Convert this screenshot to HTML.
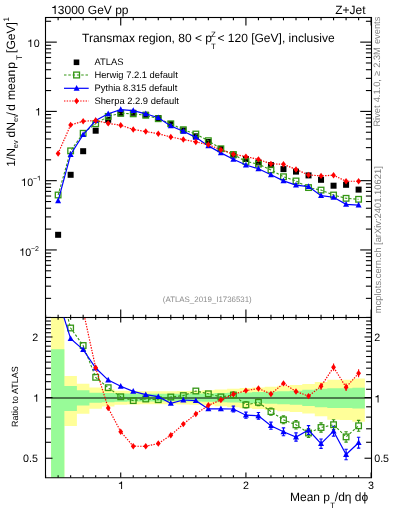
<!DOCTYPE html><html><head><meta charset="utf-8"><style>html,body{margin:0;padding:0;background:#fff;}svg{display:block;will-change:transform;text-rendering:geometricPrecision;}</style></head><body>
<svg width="393" height="512" viewBox="0 0 393 512">
<rect x="0" y="0" width="393" height="512" fill="#fff"/>
<path d="M51.10,317.50L64.38,317.50L64.38,376.04L76.90,376.04L76.90,383.77L89.42,383.77L89.42,387.59L101.94,387.59L101.94,389.32L114.46,389.32L114.46,390.77L126.98,390.77L126.98,391.01L139.50,391.01L139.50,391.17L152.02,391.17L152.02,391.17L164.54,391.17L164.54,391.17L177.06,391.17L177.06,391.01L189.58,391.01L189.58,390.77L202.10,390.77L202.10,390.36L214.62,390.36L214.62,389.56L227.14,389.56L227.14,388.77L239.66,388.77L239.66,387.98L252.18,387.98L252.18,387.43L264.70,387.43L264.70,386.66L277.22,386.66L277.22,385.66L289.74,385.66L289.74,385.12L302.26,385.12L302.26,384.07L314.78,384.07L314.78,381.99L327.30,381.99L327.30,379.82L339.82,379.82L339.82,379.68L352.34,379.68L352.34,378.47L364.86,378.47L364.86,421.85L352.34,421.85L352.34,419.91L339.82,419.91L339.82,419.68L327.30,419.68L327.30,416.36L314.78,416.36L314.78,413.38L302.26,413.38L302.26,411.92L289.74,411.92L289.74,411.20L277.22,411.20L277.22,409.88L264.70,409.88L264.70,408.88L252.18,408.88L252.18,408.19L239.66,408.19L239.66,407.20L227.14,407.20L227.14,406.23L214.62,406.23L214.62,405.27L202.10,405.27L202.10,404.79L189.58,404.79L189.58,404.51L177.06,404.51L177.06,404.32L164.54,404.32L164.54,404.32L152.02,404.32L152.02,404.32L139.50,404.32L139.50,404.51L126.98,404.51L126.98,404.79L114.46,404.79L114.46,406.52L101.94,406.52L101.94,408.68L89.42,408.68L89.42,413.80L76.90,413.80L76.90,425.99L64.38,425.99L64.38,477.50L51.10,477.50Z" fill="#ffff99"/>
<path d="M51.10,349.31L64.38,349.31L64.38,385.89L76.90,385.89L76.90,390.20L89.42,390.20L89.42,392.65L101.94,392.65L101.94,392.90L114.46,392.90L114.46,393.48L126.98,393.48L126.98,393.57L139.50,393.57L139.50,393.65L152.02,393.65L152.02,393.73L164.54,393.73L164.54,393.82L177.06,393.82L177.06,393.73L189.58,393.73L189.58,393.57L202.10,393.57L202.10,393.40L214.62,393.40L214.62,393.07L227.14,393.07L227.14,392.73L239.66,392.73L239.66,392.40L252.18,392.40L252.18,392.07L264.70,392.07L264.70,391.75L277.22,391.75L277.22,391.26L289.74,391.26L289.74,390.85L302.26,390.85L302.26,389.80L314.78,389.80L314.78,388.69L327.30,388.69L327.30,388.14L339.82,388.14L339.82,388.14L352.34,388.14L352.34,387.82L364.86,387.82L364.86,408.38L352.34,408.38L352.34,407.99L339.82,407.99L339.82,407.99L327.30,407.99L327.30,407.30L314.78,407.30L314.78,405.94L302.26,405.94L302.26,404.70L289.74,404.70L289.74,404.22L277.22,404.22L277.22,403.66L264.70,403.66L264.70,403.29L252.18,403.29L252.18,402.91L239.66,402.91L239.66,402.54L227.14,402.54L227.14,402.17L214.62,402.17L214.62,401.80L202.10,401.80L202.10,401.62L189.58,401.62L189.58,401.44L177.06,401.44L177.06,401.34L164.54,401.34L164.54,401.44L152.02,401.44L152.02,401.53L139.50,401.53L139.50,401.62L126.98,401.62L126.98,401.71L114.46,401.71L114.46,402.36L101.94,402.36L101.94,402.63L89.42,402.63L89.42,405.46L76.90,405.46L76.90,410.90L64.38,410.90L64.38,477.50L51.10,477.50Z" fill="#98fb98"/>
<line x1="45.5" y1="397.95" x2="371.5" y2="397.95" stroke="#000" stroke-width="1.05"/>
<g stroke="#000" stroke-width="1.1" fill="none">
<line x1="45.50" y1="298.36" x2="51.10" y2="298.36"/><line x1="371.50" y1="298.36" x2="365.90" y2="298.36"/><line x1="45.50" y1="286.16" x2="51.10" y2="286.16"/><line x1="371.50" y1="286.16" x2="365.90" y2="286.16"/><line x1="45.50" y1="277.51" x2="51.10" y2="277.51"/><line x1="371.50" y1="277.51" x2="365.90" y2="277.51"/><line x1="45.50" y1="270.79" x2="51.10" y2="270.79"/><line x1="371.50" y1="270.79" x2="365.90" y2="270.79"/><line x1="45.50" y1="265.31" x2="51.10" y2="265.31"/><line x1="371.50" y1="265.31" x2="365.90" y2="265.31"/><line x1="45.50" y1="260.67" x2="51.10" y2="260.67"/><line x1="371.50" y1="260.67" x2="365.90" y2="260.67"/><line x1="45.50" y1="256.65" x2="51.10" y2="256.65"/><line x1="371.50" y1="256.65" x2="365.90" y2="256.65"/><line x1="45.50" y1="253.11" x2="51.10" y2="253.11"/><line x1="371.50" y1="253.11" x2="365.90" y2="253.11"/><line x1="45.50" y1="249.94" x2="56.80" y2="249.94"/><line x1="371.50" y1="249.94" x2="360.20" y2="249.94"/><line x1="45.50" y1="229.09" x2="51.10" y2="229.09"/><line x1="371.50" y1="229.09" x2="365.90" y2="229.09"/><line x1="45.50" y1="216.89" x2="51.10" y2="216.89"/><line x1="371.50" y1="216.89" x2="365.90" y2="216.89"/><line x1="45.50" y1="208.24" x2="51.10" y2="208.24"/><line x1="371.50" y1="208.24" x2="365.90" y2="208.24"/><line x1="45.50" y1="201.52" x2="51.10" y2="201.52"/><line x1="371.50" y1="201.52" x2="365.90" y2="201.52"/><line x1="45.50" y1="196.04" x2="51.10" y2="196.04"/><line x1="371.50" y1="196.04" x2="365.90" y2="196.04"/><line x1="45.50" y1="191.40" x2="51.10" y2="191.40"/><line x1="371.50" y1="191.40" x2="365.90" y2="191.40"/><line x1="45.50" y1="187.38" x2="51.10" y2="187.38"/><line x1="371.50" y1="187.38" x2="365.90" y2="187.38"/><line x1="45.50" y1="183.84" x2="51.10" y2="183.84"/><line x1="371.50" y1="183.84" x2="365.90" y2="183.84"/><line x1="45.50" y1="180.67" x2="56.80" y2="180.67"/><line x1="371.50" y1="180.67" x2="360.20" y2="180.67"/><line x1="45.50" y1="159.82" x2="51.10" y2="159.82"/><line x1="371.50" y1="159.82" x2="365.90" y2="159.82"/><line x1="45.50" y1="147.62" x2="51.10" y2="147.62"/><line x1="371.50" y1="147.62" x2="365.90" y2="147.62"/><line x1="45.50" y1="138.97" x2="51.10" y2="138.97"/><line x1="371.50" y1="138.97" x2="365.90" y2="138.97"/><line x1="45.50" y1="132.25" x2="51.10" y2="132.25"/><line x1="371.50" y1="132.25" x2="365.90" y2="132.25"/><line x1="45.50" y1="126.77" x2="51.10" y2="126.77"/><line x1="371.50" y1="126.77" x2="365.90" y2="126.77"/><line x1="45.50" y1="122.13" x2="51.10" y2="122.13"/><line x1="371.50" y1="122.13" x2="365.90" y2="122.13"/><line x1="45.50" y1="118.11" x2="51.10" y2="118.11"/><line x1="371.50" y1="118.11" x2="365.90" y2="118.11"/><line x1="45.50" y1="114.57" x2="51.10" y2="114.57"/><line x1="371.50" y1="114.57" x2="365.90" y2="114.57"/><line x1="45.50" y1="111.40" x2="56.80" y2="111.40"/><line x1="371.50" y1="111.40" x2="360.20" y2="111.40"/><line x1="45.50" y1="90.55" x2="51.10" y2="90.55"/><line x1="371.50" y1="90.55" x2="365.90" y2="90.55"/><line x1="45.50" y1="78.35" x2="51.10" y2="78.35"/><line x1="371.50" y1="78.35" x2="365.90" y2="78.35"/><line x1="45.50" y1="69.70" x2="51.10" y2="69.70"/><line x1="371.50" y1="69.70" x2="365.90" y2="69.70"/><line x1="45.50" y1="62.98" x2="51.10" y2="62.98"/><line x1="371.50" y1="62.98" x2="365.90" y2="62.98"/><line x1="45.50" y1="57.50" x2="51.10" y2="57.50"/><line x1="371.50" y1="57.50" x2="365.90" y2="57.50"/><line x1="45.50" y1="52.86" x2="51.10" y2="52.86"/><line x1="371.50" y1="52.86" x2="365.90" y2="52.86"/><line x1="45.50" y1="48.84" x2="51.10" y2="48.84"/><line x1="371.50" y1="48.84" x2="365.90" y2="48.84"/><line x1="45.50" y1="45.30" x2="51.10" y2="45.30"/><line x1="371.50" y1="45.30" x2="365.90" y2="45.30"/><line x1="45.50" y1="42.13" x2="56.80" y2="42.13"/><line x1="371.50" y1="42.13" x2="360.20" y2="42.13"/><line x1="45.50" y1="21.28" x2="51.10" y2="21.28"/><line x1="371.50" y1="21.28" x2="365.90" y2="21.28"/><line x1="45.60" y1="17.50" x2="45.60" y2="20.30"/><line x1="45.60" y1="317.50" x2="45.60" y2="314.70"/><line x1="45.60" y1="317.50" x2="45.60" y2="319.70"/><line x1="45.60" y1="477.50" x2="45.60" y2="475.30"/><line x1="58.12" y1="17.50" x2="58.12" y2="20.30"/><line x1="58.12" y1="317.50" x2="58.12" y2="314.70"/><line x1="58.12" y1="317.50" x2="58.12" y2="319.70"/><line x1="58.12" y1="477.50" x2="58.12" y2="475.30"/><line x1="70.64" y1="17.50" x2="70.64" y2="20.30"/><line x1="70.64" y1="317.50" x2="70.64" y2="314.70"/><line x1="70.64" y1="317.50" x2="70.64" y2="319.70"/><line x1="70.64" y1="477.50" x2="70.64" y2="475.30"/><line x1="83.16" y1="17.50" x2="83.16" y2="20.30"/><line x1="83.16" y1="317.50" x2="83.16" y2="314.70"/><line x1="83.16" y1="317.50" x2="83.16" y2="319.70"/><line x1="83.16" y1="477.50" x2="83.16" y2="475.30"/><line x1="95.68" y1="17.50" x2="95.68" y2="20.30"/><line x1="95.68" y1="317.50" x2="95.68" y2="314.70"/><line x1="95.68" y1="317.50" x2="95.68" y2="319.70"/><line x1="95.68" y1="477.50" x2="95.68" y2="475.30"/><line x1="108.20" y1="17.50" x2="108.20" y2="20.30"/><line x1="108.20" y1="317.50" x2="108.20" y2="314.70"/><line x1="108.20" y1="317.50" x2="108.20" y2="319.70"/><line x1="108.20" y1="477.50" x2="108.20" y2="475.30"/><line x1="120.72" y1="17.50" x2="120.72" y2="25.50"/><line x1="120.72" y1="317.50" x2="120.72" y2="309.50"/><line x1="120.72" y1="317.50" x2="120.72" y2="322.50"/><line x1="120.72" y1="477.50" x2="120.72" y2="472.50"/><line x1="133.24" y1="17.50" x2="133.24" y2="20.30"/><line x1="133.24" y1="317.50" x2="133.24" y2="314.70"/><line x1="133.24" y1="317.50" x2="133.24" y2="319.70"/><line x1="133.24" y1="477.50" x2="133.24" y2="475.30"/><line x1="145.76" y1="17.50" x2="145.76" y2="20.30"/><line x1="145.76" y1="317.50" x2="145.76" y2="314.70"/><line x1="145.76" y1="317.50" x2="145.76" y2="319.70"/><line x1="145.76" y1="477.50" x2="145.76" y2="475.30"/><line x1="158.28" y1="17.50" x2="158.28" y2="20.30"/><line x1="158.28" y1="317.50" x2="158.28" y2="314.70"/><line x1="158.28" y1="317.50" x2="158.28" y2="319.70"/><line x1="158.28" y1="477.50" x2="158.28" y2="475.30"/><line x1="170.80" y1="17.50" x2="170.80" y2="20.30"/><line x1="170.80" y1="317.50" x2="170.80" y2="314.70"/><line x1="170.80" y1="317.50" x2="170.80" y2="319.70"/><line x1="170.80" y1="477.50" x2="170.80" y2="475.30"/><line x1="183.32" y1="17.50" x2="183.32" y2="20.30"/><line x1="183.32" y1="317.50" x2="183.32" y2="314.70"/><line x1="183.32" y1="317.50" x2="183.32" y2="319.70"/><line x1="183.32" y1="477.50" x2="183.32" y2="475.30"/><line x1="195.84" y1="17.50" x2="195.84" y2="20.30"/><line x1="195.84" y1="317.50" x2="195.84" y2="314.70"/><line x1="195.84" y1="317.50" x2="195.84" y2="319.70"/><line x1="195.84" y1="477.50" x2="195.84" y2="475.30"/><line x1="208.36" y1="17.50" x2="208.36" y2="20.30"/><line x1="208.36" y1="317.50" x2="208.36" y2="314.70"/><line x1="208.36" y1="317.50" x2="208.36" y2="319.70"/><line x1="208.36" y1="477.50" x2="208.36" y2="475.30"/><line x1="220.88" y1="17.50" x2="220.88" y2="20.30"/><line x1="220.88" y1="317.50" x2="220.88" y2="314.70"/><line x1="220.88" y1="317.50" x2="220.88" y2="319.70"/><line x1="220.88" y1="477.50" x2="220.88" y2="475.30"/><line x1="233.40" y1="17.50" x2="233.40" y2="20.30"/><line x1="233.40" y1="317.50" x2="233.40" y2="314.70"/><line x1="233.40" y1="317.50" x2="233.40" y2="319.70"/><line x1="233.40" y1="477.50" x2="233.40" y2="475.30"/><line x1="245.92" y1="17.50" x2="245.92" y2="25.50"/><line x1="245.92" y1="317.50" x2="245.92" y2="309.50"/><line x1="245.92" y1="317.50" x2="245.92" y2="322.50"/><line x1="245.92" y1="477.50" x2="245.92" y2="472.50"/><line x1="258.44" y1="17.50" x2="258.44" y2="20.30"/><line x1="258.44" y1="317.50" x2="258.44" y2="314.70"/><line x1="258.44" y1="317.50" x2="258.44" y2="319.70"/><line x1="258.44" y1="477.50" x2="258.44" y2="475.30"/><line x1="270.96" y1="17.50" x2="270.96" y2="20.30"/><line x1="270.96" y1="317.50" x2="270.96" y2="314.70"/><line x1="270.96" y1="317.50" x2="270.96" y2="319.70"/><line x1="270.96" y1="477.50" x2="270.96" y2="475.30"/><line x1="283.48" y1="17.50" x2="283.48" y2="20.30"/><line x1="283.48" y1="317.50" x2="283.48" y2="314.70"/><line x1="283.48" y1="317.50" x2="283.48" y2="319.70"/><line x1="283.48" y1="477.50" x2="283.48" y2="475.30"/><line x1="296.00" y1="17.50" x2="296.00" y2="20.30"/><line x1="296.00" y1="317.50" x2="296.00" y2="314.70"/><line x1="296.00" y1="317.50" x2="296.00" y2="319.70"/><line x1="296.00" y1="477.50" x2="296.00" y2="475.30"/><line x1="308.52" y1="17.50" x2="308.52" y2="20.30"/><line x1="308.52" y1="317.50" x2="308.52" y2="314.70"/><line x1="308.52" y1="317.50" x2="308.52" y2="319.70"/><line x1="308.52" y1="477.50" x2="308.52" y2="475.30"/><line x1="321.04" y1="17.50" x2="321.04" y2="20.30"/><line x1="321.04" y1="317.50" x2="321.04" y2="314.70"/><line x1="321.04" y1="317.50" x2="321.04" y2="319.70"/><line x1="321.04" y1="477.50" x2="321.04" y2="475.30"/><line x1="333.56" y1="17.50" x2="333.56" y2="20.30"/><line x1="333.56" y1="317.50" x2="333.56" y2="314.70"/><line x1="333.56" y1="317.50" x2="333.56" y2="319.70"/><line x1="333.56" y1="477.50" x2="333.56" y2="475.30"/><line x1="346.08" y1="17.50" x2="346.08" y2="20.30"/><line x1="346.08" y1="317.50" x2="346.08" y2="314.70"/><line x1="346.08" y1="317.50" x2="346.08" y2="319.70"/><line x1="346.08" y1="477.50" x2="346.08" y2="475.30"/><line x1="358.60" y1="17.50" x2="358.60" y2="20.30"/><line x1="358.60" y1="317.50" x2="358.60" y2="314.70"/><line x1="358.60" y1="317.50" x2="358.60" y2="319.70"/><line x1="358.60" y1="477.50" x2="358.60" y2="475.30"/><line x1="371.12" y1="17.50" x2="371.12" y2="25.50"/><line x1="371.12" y1="317.50" x2="371.12" y2="309.50"/><line x1="371.12" y1="317.50" x2="371.12" y2="322.50"/><line x1="371.12" y1="477.50" x2="371.12" y2="472.50"/><line x1="45.50" y1="458.23" x2="52.50" y2="458.23"/><line x1="371.50" y1="458.23" x2="364.50" y2="458.23"/><line x1="45.50" y1="442.28" x2="50.90" y2="442.28"/><line x1="371.50" y1="442.28" x2="366.10" y2="442.28"/><line x1="45.50" y1="428.80" x2="50.90" y2="428.80"/><line x1="371.50" y1="428.80" x2="366.10" y2="428.80"/><line x1="45.50" y1="417.12" x2="50.90" y2="417.12"/><line x1="371.50" y1="417.12" x2="366.10" y2="417.12"/><line x1="45.50" y1="406.82" x2="50.90" y2="406.82"/><line x1="371.50" y1="406.82" x2="366.10" y2="406.82"/><line x1="45.50" y1="397.60" x2="52.50" y2="397.60"/><line x1="371.50" y1="397.60" x2="364.50" y2="397.60"/><line x1="45.50" y1="389.26" x2="50.90" y2="389.26"/><line x1="371.50" y1="389.26" x2="366.10" y2="389.26"/><line x1="45.50" y1="381.65" x2="50.90" y2="381.65"/><line x1="371.50" y1="381.65" x2="366.10" y2="381.65"/><line x1="45.50" y1="374.65" x2="50.90" y2="374.65"/><line x1="371.50" y1="374.65" x2="366.10" y2="374.65"/><line x1="45.50" y1="368.17" x2="50.90" y2="368.17"/><line x1="371.50" y1="368.17" x2="366.10" y2="368.17"/><line x1="45.50" y1="362.14" x2="50.90" y2="362.14"/><line x1="371.50" y1="362.14" x2="366.10" y2="362.14"/><line x1="45.50" y1="356.49" x2="50.90" y2="356.49"/><line x1="371.50" y1="356.49" x2="366.10" y2="356.49"/><line x1="45.50" y1="351.19" x2="50.90" y2="351.19"/><line x1="371.50" y1="351.19" x2="366.10" y2="351.19"/><line x1="45.50" y1="346.19" x2="50.90" y2="346.19"/><line x1="371.50" y1="346.19" x2="366.10" y2="346.19"/><line x1="45.50" y1="341.46" x2="50.90" y2="341.46"/><line x1="371.50" y1="341.46" x2="366.10" y2="341.46"/><line x1="45.50" y1="336.97" x2="52.50" y2="336.97"/><line x1="371.50" y1="336.97" x2="364.50" y2="336.97"/><line x1="45.50" y1="332.71" x2="50.90" y2="332.71"/><line x1="371.50" y1="332.71" x2="366.10" y2="332.71"/><line x1="45.50" y1="328.64" x2="50.90" y2="328.64"/><line x1="371.50" y1="328.64" x2="366.10" y2="328.64"/><line x1="45.50" y1="324.75" x2="50.90" y2="324.75"/><line x1="371.50" y1="324.75" x2="366.10" y2="324.75"/><line x1="45.50" y1="321.03" x2="50.90" y2="321.03"/><line x1="371.50" y1="321.03" x2="366.10" y2="321.03"/><line x1="45.50" y1="317.45" x2="50.90" y2="317.45"/><line x1="371.50" y1="317.45" x2="366.10" y2="317.45"/>
<rect x="45.5" y="17.5" width="326.0" height="300.0"/>
<path d="M45.5,317.5L45.5,477.8L371.5,477.8L371.5,317.5"/>
</g>
<defs><clipPath id="cu"><rect x="45.5" y="17.5" width="326.0" height="300.0"/></clipPath><clipPath id="cr"><rect x="45.5" y="317.5" width="326.0" height="160.0"/></clipPath></defs>
<g clip-path="url(#cu)">
<rect x="55.12" y="231.80" width="6.0" height="6.0" fill="#000"/><rect x="67.64" y="171.80" width="6.0" height="6.0" fill="#000"/><rect x="80.16" y="148.20" width="6.0" height="6.0" fill="#000"/><rect x="92.68" y="127.70" width="6.0" height="6.0" fill="#000"/><rect x="105.20" y="116.80" width="6.0" height="6.0" fill="#000"/><rect x="117.72" y="110.50" width="6.0" height="6.0" fill="#000"/><rect x="130.24" y="109.80" width="6.0" height="6.0" fill="#000"/><rect x="142.76" y="111.80" width="6.0" height="6.0" fill="#000"/><rect x="155.28" y="115.00" width="6.0" height="6.0" fill="#000"/><rect x="167.80" y="121.00" width="6.0" height="6.0" fill="#000"/><rect x="180.32" y="127.40" width="6.0" height="6.0" fill="#000"/><rect x="192.84" y="133.30" width="6.0" height="6.0" fill="#000"/><rect x="205.36" y="139.00" width="6.0" height="6.0" fill="#000"/><rect x="217.88" y="146.00" width="6.0" height="6.0" fill="#000"/><rect x="230.40" y="152.40" width="6.0" height="6.0" fill="#000"/><rect x="242.92" y="156.00" width="6.0" height="6.0" fill="#000"/><rect x="255.44" y="159.50" width="6.0" height="6.0" fill="#000"/><rect x="267.96" y="162.10" width="6.0" height="6.0" fill="#000"/><rect x="280.48" y="166.10" width="6.0" height="6.0" fill="#000"/><rect x="293.00" y="168.60" width="6.0" height="6.0" fill="#000"/><rect x="305.52" y="172.40" width="6.0" height="6.0" fill="#000"/><rect x="318.04" y="176.80" width="6.0" height="6.0" fill="#000"/><rect x="330.56" y="182.70" width="6.0" height="6.0" fill="#000"/><rect x="343.08" y="181.80" width="6.0" height="6.0" fill="#000"/><rect x="355.60" y="186.60" width="6.0" height="6.0" fill="#000"/>
<polyline points="58.12,195.00 70.64,150.86 83.16,133.28 95.68,123.72 108.20,116.39 120.72,113.22 133.24,113.83 145.76,115.28 158.28,118.72 170.80,123.79 183.32,129.71 195.84,134.03 208.36,140.69 220.88,148.76 233.40,154.51 245.92,161.48 258.44,164.12 270.96,169.92 283.48,176.74 296.00,180.96 308.52,187.58 321.04,190.08 333.56,195.02 346.08,198.32 358.60,199.30" fill="none" stroke="#349614" stroke-width="1.1" stroke-dasharray="2.5,1.8"/>
<rect x="55.32" y="192.20" width="5.6" height="5.6" fill="none" stroke="#349614" stroke-width="1.3"/><rect x="67.84" y="148.06" width="5.6" height="5.6" fill="none" stroke="#349614" stroke-width="1.3"/><rect x="80.36" y="130.48" width="5.6" height="5.6" fill="none" stroke="#349614" stroke-width="1.3"/><rect x="92.88" y="120.92" width="5.6" height="5.6" fill="none" stroke="#349614" stroke-width="1.3"/><rect x="105.40" y="113.59" width="5.6" height="5.6" fill="none" stroke="#349614" stroke-width="1.3"/><rect x="117.92" y="110.42" width="5.6" height="5.6" fill="none" stroke="#349614" stroke-width="1.3"/><rect x="130.44" y="111.03" width="5.6" height="5.6" fill="none" stroke="#349614" stroke-width="1.3"/><rect x="142.96" y="112.48" width="5.6" height="5.6" fill="none" stroke="#349614" stroke-width="1.3"/><rect x="155.48" y="115.92" width="5.6" height="5.6" fill="none" stroke="#349614" stroke-width="1.3"/><rect x="168.00" y="120.99" width="5.6" height="5.6" fill="none" stroke="#349614" stroke-width="1.3"/><rect x="180.52" y="126.91" width="5.6" height="5.6" fill="none" stroke="#349614" stroke-width="1.3"/><rect x="193.04" y="131.23" width="5.6" height="5.6" fill="none" stroke="#349614" stroke-width="1.3"/><rect x="205.56" y="137.89" width="5.6" height="5.6" fill="none" stroke="#349614" stroke-width="1.3"/><rect x="218.08" y="145.96" width="5.6" height="5.6" fill="none" stroke="#349614" stroke-width="1.3"/><rect x="230.60" y="151.71" width="5.6" height="5.6" fill="none" stroke="#349614" stroke-width="1.3"/><rect x="243.12" y="158.68" width="5.6" height="5.6" fill="none" stroke="#349614" stroke-width="1.3"/><rect x="255.64" y="161.32" width="5.6" height="5.6" fill="none" stroke="#349614" stroke-width="1.3"/><rect x="268.16" y="167.12" width="5.6" height="5.6" fill="none" stroke="#349614" stroke-width="1.3"/><rect x="280.68" y="173.94" width="5.6" height="5.6" fill="none" stroke="#349614" stroke-width="1.3"/><rect x="293.20" y="178.16" width="5.6" height="5.6" fill="none" stroke="#349614" stroke-width="1.3"/><rect x="305.72" y="184.78" width="5.6" height="5.6" fill="none" stroke="#349614" stroke-width="1.3"/><rect x="318.24" y="187.28" width="5.6" height="5.6" fill="none" stroke="#349614" stroke-width="1.3"/><rect x="330.76" y="192.22" width="5.6" height="5.6" fill="none" stroke="#349614" stroke-width="1.3"/><rect x="343.28" y="195.52" width="5.6" height="5.6" fill="none" stroke="#349614" stroke-width="1.3"/><rect x="355.80" y="196.50" width="5.6" height="5.6" fill="none" stroke="#349614" stroke-width="1.3"/>
<polyline points="58.12,200.90 70.64,154.54 83.16,134.69 95.68,120.52 108.20,113.78 120.72,109.61 133.24,110.67 145.76,113.80 158.28,117.69 170.80,125.96 183.32,131.23 195.84,137.37 208.36,145.89 220.88,152.89 233.40,159.32 245.92,165.05 258.44,168.76 270.96,174.76 283.48,180.86 296.00,185.15 308.52,186.54 321.04,195.66 333.56,197.26 346.08,204.37 358.60,205.11" fill="none" stroke="#0000ff" stroke-width="1.2"/>
<path d="M55.12,203.30L61.12,203.30L58.12,197.60Z" fill="#0000ff"/><path d="M67.64,156.94L73.64,156.94L70.64,151.24Z" fill="#0000ff"/><path d="M80.16,137.09L86.16,137.09L83.16,131.39Z" fill="#0000ff"/><path d="M92.68,122.92L98.68,122.92L95.68,117.22Z" fill="#0000ff"/><path d="M105.20,116.18L111.20,116.18L108.20,110.48Z" fill="#0000ff"/><path d="M117.72,112.01L123.72,112.01L120.72,106.31Z" fill="#0000ff"/><path d="M130.24,113.07L136.24,113.07L133.24,107.37Z" fill="#0000ff"/><path d="M142.76,116.20L148.76,116.20L145.76,110.50Z" fill="#0000ff"/><path d="M155.28,120.09L161.28,120.09L158.28,114.39Z" fill="#0000ff"/><path d="M167.80,128.36L173.80,128.36L170.80,122.66Z" fill="#0000ff"/><path d="M180.32,133.63L186.32,133.63L183.32,127.93Z" fill="#0000ff"/><path d="M192.84,139.77L198.84,139.77L195.84,134.07Z" fill="#0000ff"/><path d="M205.36,148.29L211.36,148.29L208.36,142.59Z" fill="#0000ff"/><path d="M217.88,155.29L223.88,155.29L220.88,149.59Z" fill="#0000ff"/><path d="M230.40,161.72L236.40,161.72L233.40,156.02Z" fill="#0000ff"/><path d="M242.92,167.45L248.92,167.45L245.92,161.75Z" fill="#0000ff"/><path d="M255.44,171.16L261.44,171.16L258.44,165.46Z" fill="#0000ff"/><path d="M267.96,177.16L273.96,177.16L270.96,171.46Z" fill="#0000ff"/><path d="M280.48,183.26L286.48,183.26L283.48,177.56Z" fill="#0000ff"/><path d="M293.00,187.55L299.00,187.55L296.00,181.85Z" fill="#0000ff"/><path d="M305.52,188.94L311.52,188.94L308.52,183.24Z" fill="#0000ff"/><path d="M318.04,198.06L324.04,198.06L321.04,192.36Z" fill="#0000ff"/><path d="M330.56,199.66L336.56,199.66L333.56,193.96Z" fill="#0000ff"/><path d="M343.08,206.77L349.08,206.77L346.08,201.07Z" fill="#0000ff"/><path d="M355.60,207.51L361.60,207.51L358.60,201.81Z" fill="#0000ff"/>
<polyline points="58.12,153.50 70.64,124.90 83.16,121.30 95.68,120.45 108.20,123.38 120.72,125.23 133.24,129.52 145.76,131.55 158.28,133.79 170.80,136.97 183.32,139.51 195.84,141.94 208.36,144.65 220.88,149.83 233.40,154.26 245.92,156.59 258.44,159.37 270.96,163.86 283.48,164.22 296.00,169.50 308.52,174.88 321.04,175.91 333.56,175.24 346.08,181.26 358.60,181.24" fill="none" stroke="#ff0000" stroke-width="1.2" stroke-dasharray="1.4,1.3"/>
<path d="M58.12,150.30L60.52,153.50L58.12,156.70L55.72,153.50Z" fill="#ff0000"/><path d="M70.64,121.70L73.04,124.90L70.64,128.10L68.24,124.90Z" fill="#ff0000"/><path d="M83.16,118.10L85.56,121.30L83.16,124.50L80.76,121.30Z" fill="#ff0000"/><path d="M95.68,117.25L98.08,120.45L95.68,123.65L93.28,120.45Z" fill="#ff0000"/><path d="M108.20,120.18L110.60,123.38L108.20,126.58L105.80,123.38Z" fill="#ff0000"/><path d="M120.72,122.03L123.12,125.23L120.72,128.43L118.32,125.23Z" fill="#ff0000"/><path d="M133.24,126.32L135.64,129.52L133.24,132.72L130.84,129.52Z" fill="#ff0000"/><path d="M145.76,128.35L148.16,131.55L145.76,134.75L143.36,131.55Z" fill="#ff0000"/><path d="M158.28,130.59L160.68,133.79L158.28,136.99L155.88,133.79Z" fill="#ff0000"/><path d="M170.80,133.77L173.20,136.97L170.80,140.17L168.40,136.97Z" fill="#ff0000"/><path d="M183.32,136.31L185.72,139.51L183.32,142.71L180.92,139.51Z" fill="#ff0000"/><path d="M195.84,138.74L198.24,141.94L195.84,145.14L193.44,141.94Z" fill="#ff0000"/><path d="M208.36,141.45L210.76,144.65L208.36,147.85L205.96,144.65Z" fill="#ff0000"/><path d="M220.88,146.63L223.28,149.83L220.88,153.03L218.48,149.83Z" fill="#ff0000"/><path d="M233.40,151.06L235.80,154.26L233.40,157.46L231.00,154.26Z" fill="#ff0000"/><path d="M245.92,153.39L248.32,156.59L245.92,159.79L243.52,156.59Z" fill="#ff0000"/><path d="M258.44,156.17L260.84,159.37L258.44,162.57L256.04,159.37Z" fill="#ff0000"/><path d="M270.96,160.66L273.36,163.86L270.96,167.06L268.56,163.86Z" fill="#ff0000"/><path d="M283.48,161.02L285.88,164.22L283.48,167.42L281.08,164.22Z" fill="#ff0000"/><path d="M296.00,166.30L298.40,169.50L296.00,172.70L293.60,169.50Z" fill="#ff0000"/><path d="M308.52,171.68L310.92,174.88L308.52,178.08L306.12,174.88Z" fill="#ff0000"/><path d="M321.04,172.71L323.44,175.91L321.04,179.11L318.64,175.91Z" fill="#ff0000"/><path d="M333.56,172.04L335.96,175.24L333.56,178.44L331.16,175.24Z" fill="#ff0000"/><path d="M346.08,178.06L348.48,181.26L346.08,184.46L343.68,181.26Z" fill="#ff0000"/><path d="M358.60,178.04L361.00,181.24L358.60,184.44L356.20,181.24Z" fill="#ff0000"/>
</g>
<g clip-path="url(#cr)">
<g stroke="#349614" stroke-width="1.1"><line x1="233.40" y1="392.16" x2="233.40" y2="392.20"/><line x1="233.40" y1="397.80" x2="233.40" y2="397.84"/><line x1="231.70" y1="392.16" x2="235.10" y2="392.16"/><line x1="231.70" y1="397.84" x2="235.10" y2="397.84"/><line x1="245.92" y1="401.70" x2="245.92" y2="402.00"/><line x1="245.92" y1="407.60" x2="245.92" y2="407.90"/><line x1="244.22" y1="401.70" x2="247.62" y2="401.70"/><line x1="244.22" y1="407.90" x2="247.62" y2="407.90"/><line x1="258.44" y1="398.94" x2="258.44" y2="399.50"/><line x1="258.44" y1="405.10" x2="258.44" y2="405.66"/><line x1="256.74" y1="398.94" x2="260.14" y2="398.94"/><line x1="256.74" y1="405.66" x2="260.14" y2="405.66"/><line x1="270.96" y1="407.98" x2="270.96" y2="408.80"/><line x1="270.96" y1="414.40" x2="270.96" y2="415.22"/><line x1="269.26" y1="407.98" x2="272.66" y2="407.98"/><line x1="269.26" y1="415.22" x2="272.66" y2="415.22"/><line x1="283.48" y1="415.92" x2="283.48" y2="417.00"/><line x1="283.48" y1="422.60" x2="283.48" y2="423.68"/><line x1="281.78" y1="415.92" x2="285.18" y2="415.92"/><line x1="281.78" y1="423.68" x2="285.18" y2="423.68"/><line x1="296.00" y1="420.66" x2="296.00" y2="422.00"/><line x1="296.00" y1="427.60" x2="296.00" y2="428.94"/><line x1="294.30" y1="420.66" x2="297.70" y2="420.66"/><line x1="294.30" y1="428.94" x2="297.70" y2="428.94"/><line x1="308.52" y1="428.60" x2="308.52" y2="430.20"/><line x1="308.52" y1="435.80" x2="308.52" y2="437.40"/><line x1="306.82" y1="428.60" x2="310.22" y2="428.60"/><line x1="306.82" y1="437.40" x2="310.22" y2="437.40"/><line x1="321.04" y1="422.84" x2="321.04" y2="424.70"/><line x1="321.04" y1="430.30" x2="321.04" y2="432.16"/><line x1="319.34" y1="422.84" x2="322.74" y2="422.84"/><line x1="319.34" y1="432.16" x2="322.74" y2="432.16"/><line x1="333.56" y1="419.78" x2="333.56" y2="421.90"/><line x1="333.56" y1="427.50" x2="333.56" y2="429.62"/><line x1="331.86" y1="419.78" x2="335.26" y2="419.78"/><line x1="331.86" y1="429.62" x2="335.26" y2="429.62"/><line x1="346.08" y1="431.72" x2="346.08" y2="434.10"/><line x1="346.08" y1="439.70" x2="346.08" y2="442.08"/><line x1="344.38" y1="431.72" x2="347.78" y2="431.72"/><line x1="344.38" y1="442.08" x2="347.78" y2="442.08"/><line x1="358.60" y1="420.36" x2="358.60" y2="423.00"/><line x1="358.60" y1="428.60" x2="358.60" y2="431.24"/><line x1="356.90" y1="420.36" x2="360.30" y2="420.36"/><line x1="356.90" y1="431.24" x2="360.30" y2="431.24"/></g>
<g stroke="#0000ff" stroke-width="1.1"><line x1="233.40" y1="406.16" x2="233.40" y2="409.00"/><line x1="233.40" y1="409.00" x2="233.40" y2="411.84"/><line x1="231.70" y1="406.16" x2="235.10" y2="406.16"/><line x1="231.70" y1="411.84" x2="235.10" y2="411.84"/><line x1="245.92" y1="412.10" x2="245.92" y2="415.20"/><line x1="245.92" y1="415.20" x2="245.92" y2="418.30"/><line x1="244.22" y1="412.10" x2="247.62" y2="412.10"/><line x1="244.22" y1="418.30" x2="247.62" y2="418.30"/><line x1="258.44" y1="412.44" x2="258.44" y2="415.80"/><line x1="258.44" y1="415.80" x2="258.44" y2="419.16"/><line x1="256.74" y1="412.44" x2="260.14" y2="412.44"/><line x1="256.74" y1="419.16" x2="260.14" y2="419.16"/><line x1="270.96" y1="422.08" x2="270.96" y2="425.70"/><line x1="270.96" y1="425.70" x2="270.96" y2="429.32"/><line x1="269.26" y1="422.08" x2="272.66" y2="422.08"/><line x1="269.26" y1="429.32" x2="272.66" y2="429.32"/><line x1="283.48" y1="427.92" x2="283.48" y2="431.80"/><line x1="283.48" y1="431.80" x2="283.48" y2="435.68"/><line x1="281.78" y1="427.92" x2="285.18" y2="427.92"/><line x1="281.78" y1="435.68" x2="285.18" y2="435.68"/><line x1="296.00" y1="432.86" x2="296.00" y2="437.00"/><line x1="296.00" y1="437.00" x2="296.00" y2="441.14"/><line x1="294.30" y1="432.86" x2="297.70" y2="432.86"/><line x1="294.30" y1="441.14" x2="297.70" y2="441.14"/><line x1="308.52" y1="425.60" x2="308.52" y2="430.00"/><line x1="308.52" y1="430.00" x2="308.52" y2="434.40"/><line x1="306.82" y1="425.60" x2="310.22" y2="425.60"/><line x1="306.82" y1="434.40" x2="310.22" y2="434.40"/><line x1="321.04" y1="439.04" x2="321.04" y2="443.70"/><line x1="321.04" y1="443.70" x2="321.04" y2="448.36"/><line x1="319.34" y1="439.04" x2="322.74" y2="439.04"/><line x1="319.34" y1="448.36" x2="322.74" y2="448.36"/><line x1="333.56" y1="426.28" x2="333.56" y2="431.20"/><line x1="333.56" y1="431.20" x2="333.56" y2="436.12"/><line x1="331.86" y1="426.28" x2="335.26" y2="426.28"/><line x1="331.86" y1="436.12" x2="335.26" y2="436.12"/><line x1="346.08" y1="449.32" x2="346.08" y2="454.50"/><line x1="346.08" y1="454.50" x2="346.08" y2="459.68"/><line x1="344.38" y1="449.32" x2="347.78" y2="449.32"/><line x1="344.38" y1="459.68" x2="347.78" y2="459.68"/><line x1="358.60" y1="437.26" x2="358.60" y2="442.70"/><line x1="358.60" y1="442.70" x2="358.60" y2="448.14"/><line x1="356.90" y1="437.26" x2="360.30" y2="437.26"/><line x1="356.90" y1="448.14" x2="360.30" y2="448.14"/></g>
<g stroke="#ff0000" stroke-width="1.1"><line x1="321.04" y1="382.90" x2="321.04" y2="384.30"/><line x1="321.04" y1="388.30" x2="321.04" y2="389.70"/><line x1="333.56" y1="363.60" x2="333.56" y2="365.20"/><line x1="333.56" y1="369.20" x2="333.56" y2="370.80"/><line x1="346.08" y1="383.50" x2="346.08" y2="385.30"/><line x1="346.08" y1="389.30" x2="346.08" y2="391.10"/><line x1="358.60" y1="369.30" x2="358.60" y2="371.30"/><line x1="358.60" y1="375.30" x2="358.60" y2="377.30"/></g>
<polyline points="58.12,281.88 70.64,328.00 83.16,345.50 95.68,377.30 108.20,387.70 120.72,396.80 133.24,400.60 145.76,399.00 158.28,399.70 170.80,397.00 183.32,395.60 195.84,391.00 208.36,393.80 220.88,396.90 233.40,395.00 245.92,404.80 258.44,402.30 270.96,411.60 283.48,419.80 296.00,424.80 308.52,433.00 321.04,427.50 333.56,424.70 346.08,436.90 358.60,425.80" fill="none" stroke="#349614" stroke-width="1.1" stroke-dasharray="2.5,1.8"/>
<rect x="55.32" y="279.08" width="5.6" height="5.6" fill="none" stroke="#349614" stroke-width="1.3"/><rect x="67.84" y="325.20" width="5.6" height="5.6" fill="none" stroke="#349614" stroke-width="1.3"/><rect x="80.36" y="342.70" width="5.6" height="5.6" fill="none" stroke="#349614" stroke-width="1.3"/><rect x="92.88" y="374.50" width="5.6" height="5.6" fill="none" stroke="#349614" stroke-width="1.3"/><rect x="105.40" y="384.90" width="5.6" height="5.6" fill="none" stroke="#349614" stroke-width="1.3"/><rect x="117.92" y="394.00" width="5.6" height="5.6" fill="none" stroke="#349614" stroke-width="1.3"/><rect x="130.44" y="397.80" width="5.6" height="5.6" fill="none" stroke="#349614" stroke-width="1.3"/><rect x="142.96" y="396.20" width="5.6" height="5.6" fill="none" stroke="#349614" stroke-width="1.3"/><rect x="155.48" y="396.90" width="5.6" height="5.6" fill="none" stroke="#349614" stroke-width="1.3"/><rect x="168.00" y="394.20" width="5.6" height="5.6" fill="none" stroke="#349614" stroke-width="1.3"/><rect x="180.52" y="392.80" width="5.6" height="5.6" fill="none" stroke="#349614" stroke-width="1.3"/><rect x="193.04" y="388.20" width="5.6" height="5.6" fill="none" stroke="#349614" stroke-width="1.3"/><rect x="205.56" y="391.00" width="5.6" height="5.6" fill="none" stroke="#349614" stroke-width="1.3"/><rect x="218.08" y="394.10" width="5.6" height="5.6" fill="none" stroke="#349614" stroke-width="1.3"/><rect x="230.60" y="392.20" width="5.6" height="5.6" fill="none" stroke="#349614" stroke-width="1.3"/><rect x="243.12" y="402.00" width="5.6" height="5.6" fill="none" stroke="#349614" stroke-width="1.3"/><rect x="255.64" y="399.50" width="5.6" height="5.6" fill="none" stroke="#349614" stroke-width="1.3"/><rect x="268.16" y="408.80" width="5.6" height="5.6" fill="none" stroke="#349614" stroke-width="1.3"/><rect x="280.68" y="417.00" width="5.6" height="5.6" fill="none" stroke="#349614" stroke-width="1.3"/><rect x="293.20" y="422.00" width="5.6" height="5.6" fill="none" stroke="#349614" stroke-width="1.3"/><rect x="305.72" y="430.20" width="5.6" height="5.6" fill="none" stroke="#349614" stroke-width="1.3"/><rect x="318.24" y="424.70" width="5.6" height="5.6" fill="none" stroke="#349614" stroke-width="1.3"/><rect x="330.76" y="421.90" width="5.6" height="5.6" fill="none" stroke="#349614" stroke-width="1.3"/><rect x="343.28" y="434.10" width="5.6" height="5.6" fill="none" stroke="#349614" stroke-width="1.3"/><rect x="355.80" y="423.00" width="5.6" height="5.6" fill="none" stroke="#349614" stroke-width="1.3"/>
<polyline points="58.12,299.04 70.64,338.70 83.16,349.60 95.68,368.00 108.20,380.10 120.72,386.30 133.24,391.40 145.76,394.70 158.28,396.70 170.80,403.30 183.32,400.00 195.84,400.70 208.36,408.90 220.88,408.90 233.40,409.00 245.92,415.20 258.44,415.80 270.96,425.70 283.48,431.80 296.00,437.00 308.52,430.00 321.04,443.70 333.56,431.20 346.08,454.50 358.60,442.70" fill="none" stroke="#0000ff" stroke-width="1.2"/>
<path d="M55.12,301.44L61.12,301.44L58.12,295.74Z" fill="#0000ff"/><path d="M67.64,341.10L73.64,341.10L70.64,335.40Z" fill="#0000ff"/><path d="M80.16,352.00L86.16,352.00L83.16,346.30Z" fill="#0000ff"/><path d="M92.68,370.40L98.68,370.40L95.68,364.70Z" fill="#0000ff"/><path d="M105.20,382.50L111.20,382.50L108.20,376.80Z" fill="#0000ff"/><path d="M117.72,388.70L123.72,388.70L120.72,383.00Z" fill="#0000ff"/><path d="M130.24,393.80L136.24,393.80L133.24,388.10Z" fill="#0000ff"/><path d="M142.76,397.10L148.76,397.10L145.76,391.40Z" fill="#0000ff"/><path d="M155.28,399.10L161.28,399.10L158.28,393.40Z" fill="#0000ff"/><path d="M167.80,405.70L173.80,405.70L170.80,400.00Z" fill="#0000ff"/><path d="M180.32,402.40L186.32,402.40L183.32,396.70Z" fill="#0000ff"/><path d="M192.84,403.10L198.84,403.10L195.84,397.40Z" fill="#0000ff"/><path d="M205.36,411.30L211.36,411.30L208.36,405.60Z" fill="#0000ff"/><path d="M217.88,411.30L223.88,411.30L220.88,405.60Z" fill="#0000ff"/><path d="M230.40,411.40L236.40,411.40L233.40,405.70Z" fill="#0000ff"/><path d="M242.92,417.60L248.92,417.60L245.92,411.90Z" fill="#0000ff"/><path d="M255.44,418.20L261.44,418.20L258.44,412.50Z" fill="#0000ff"/><path d="M267.96,428.10L273.96,428.10L270.96,422.40Z" fill="#0000ff"/><path d="M280.48,434.20L286.48,434.20L283.48,428.50Z" fill="#0000ff"/><path d="M293.00,439.40L299.00,439.40L296.00,433.70Z" fill="#0000ff"/><path d="M305.52,432.40L311.52,432.40L308.52,426.70Z" fill="#0000ff"/><path d="M318.04,446.10L324.04,446.10L321.04,440.40Z" fill="#0000ff"/><path d="M330.56,433.60L336.56,433.60L333.56,427.90Z" fill="#0000ff"/><path d="M343.08,456.90L349.08,456.90L346.08,451.20Z" fill="#0000ff"/><path d="M355.60,445.10L361.60,445.10L358.60,439.40Z" fill="#0000ff"/>
<polyline points="58.12,161.22 70.64,252.52 83.16,310.67 95.68,367.80 108.20,408.00 120.72,431.70 133.24,446.20 145.76,446.30 158.28,443.50 170.80,435.30 183.32,424.10 195.84,414.00 208.36,405.30 220.88,400.00 233.40,394.30 245.92,390.60 258.44,388.50 270.96,394.00 283.48,383.40 296.00,391.50 308.52,396.10 321.04,386.30 333.56,367.20 346.08,387.30 358.60,373.30" fill="none" stroke="#ff0000" stroke-width="1.2" stroke-dasharray="1.4,1.3"/>
<path d="M58.12,158.02L60.52,161.22L58.12,164.42L55.72,161.22Z" fill="#ff0000"/><path d="M70.64,249.32L73.04,252.52L70.64,255.72L68.24,252.52Z" fill="#ff0000"/><path d="M83.16,307.47L85.56,310.67L83.16,313.87L80.76,310.67Z" fill="#ff0000"/><path d="M95.68,364.60L98.08,367.80L95.68,371.00L93.28,367.80Z" fill="#ff0000"/><path d="M108.20,404.80L110.60,408.00L108.20,411.20L105.80,408.00Z" fill="#ff0000"/><path d="M120.72,428.50L123.12,431.70L120.72,434.90L118.32,431.70Z" fill="#ff0000"/><path d="M133.24,443.00L135.64,446.20L133.24,449.40L130.84,446.20Z" fill="#ff0000"/><path d="M145.76,443.10L148.16,446.30L145.76,449.50L143.36,446.30Z" fill="#ff0000"/><path d="M158.28,440.30L160.68,443.50L158.28,446.70L155.88,443.50Z" fill="#ff0000"/><path d="M170.80,432.10L173.20,435.30L170.80,438.50L168.40,435.30Z" fill="#ff0000"/><path d="M183.32,420.90L185.72,424.10L183.32,427.30L180.92,424.10Z" fill="#ff0000"/><path d="M195.84,410.80L198.24,414.00L195.84,417.20L193.44,414.00Z" fill="#ff0000"/><path d="M208.36,402.10L210.76,405.30L208.36,408.50L205.96,405.30Z" fill="#ff0000"/><path d="M220.88,396.80L223.28,400.00L220.88,403.20L218.48,400.00Z" fill="#ff0000"/><path d="M233.40,391.10L235.80,394.30L233.40,397.50L231.00,394.30Z" fill="#ff0000"/><path d="M245.92,387.40L248.32,390.60L245.92,393.80L243.52,390.60Z" fill="#ff0000"/><path d="M258.44,385.30L260.84,388.50L258.44,391.70L256.04,388.50Z" fill="#ff0000"/><path d="M270.96,390.80L273.36,394.00L270.96,397.20L268.56,394.00Z" fill="#ff0000"/><path d="M283.48,380.20L285.88,383.40L283.48,386.60L281.08,383.40Z" fill="#ff0000"/><path d="M296.00,388.30L298.40,391.50L296.00,394.70L293.60,391.50Z" fill="#ff0000"/><path d="M308.52,392.90L310.92,396.10L308.52,399.30L306.12,396.10Z" fill="#ff0000"/><path d="M321.04,383.10L323.44,386.30L321.04,389.50L318.64,386.30Z" fill="#ff0000"/><path d="M333.56,364.00L335.96,367.20L333.56,370.40L331.16,367.20Z" fill="#ff0000"/><path d="M346.08,384.10L348.48,387.30L346.08,390.50L343.68,387.30Z" fill="#ff0000"/><path d="M358.60,370.10L361.00,373.30L358.60,376.50L356.20,373.30Z" fill="#ff0000"/>
</g>
<rect x="73.70" y="59.50" width="5.6" height="5.6" fill="#000"/><line x1="64" y1="75" x2="88" y2="75" stroke="#349614" stroke-width="1.1" stroke-dasharray="2.5,1.8"/><rect x="73.70" y="72.10" width="5.8" height="5.8" fill="none" stroke="#349614" stroke-width="1.3"/><line x1="64" y1="88.3" x2="88.7" y2="88.3" stroke="#0000ff" stroke-width="1.2"/><path d="M73.60,90.80L79.60,90.80L76.60,85.10Z" fill="#0000ff"/><line x1="64" y1="101" x2="88.7" y2="101" stroke="#ff0000" stroke-width="1.2" stroke-dasharray="1.4,1.3"/><path d="M76.60,97.80L79.00,101.00L76.60,104.20L74.20,101.00Z" fill="#ff0000"/>
<g font-family="Liberation Sans" font-size="9.4" fill="#000"><text x="94.4" y="65.4">ATLAS</text><text x="94.4" y="78.2">Herwig 7.2.1 default</text><text x="94.4" y="91.0">Pythia 8.315 default</text><text x="94.4" y="103.8">Sherpa 2.2.9 default</text></g>
<g font-family="Liberation Sans" fill="#000">
<path d="M55.68,5.56L55.68,14.00L54.63,14.00L54.63,8.05L52.11,8.05L52.11,7.21L53.38,7.09L54.28,6.56L54.76,5.56Z"/>
<text x="57.8" y="14" font-size="12">3000 GeV pp</text>
<text x="365.5" y="13.6" font-size="12" text-anchor="end">Z+Jet</text>
<text x="82" y="41.9" font-size="12">Transmax region, 80 &lt; p</text>
<text x="210.9" y="36.5" font-size="7.8">Z</text>
<text x="210.9" y="48.5" font-size="7.8">T</text>
<text x="217.5" y="41.9" font-size="12">&lt; 120 [GeV], inclusive</text>
<path d="M31.26,39.38L31.26,46.90L30.31,46.90L30.31,41.59L28.07,41.59L28.07,40.84L29.20,40.74L30.00,40.27L30.43,39.38Z"/><text x="33.65" y="46.9" font-size="10.7">0</text>
<path d="M39.11,108.08L39.11,115.60L38.16,115.60L38.16,110.29L35.92,110.29L35.92,109.54L37.05,109.44L37.85,108.97L38.28,108.08Z"/>
<path d="M24.96,178.38L24.96,185.90L24.01,185.90L24.01,180.59L21.77,180.59L21.77,179.84L22.90,179.74L23.70,179.27L24.13,178.38Z"/><text x="27.15" y="185.9" font-size="10.7">0</text>
<text x="33.1" y="180.6" font-size="7">−</text>
<path d="M39.64,175.68L39.64,180.60L39.02,180.60L39.02,177.13L37.55,177.13L37.55,176.64L38.29,176.57L38.82,176.26L39.10,175.68Z"/>
<path d="M23.26,248.28L23.26,255.80L22.31,255.80L22.31,250.49L20.07,250.49L20.07,249.74L21.20,249.64L22.00,249.17L22.43,248.28Z"/><text x="25.15" y="255.8" font-size="10.7">0</text>
<text x="31.0" y="250.5" font-size="7">−2</text>
<text x="32.35" y="340.5" font-size="10.7">2</text>
<path d="M37.21,394.28L37.21,401.80L36.26,401.80L36.26,396.49L34.02,396.49L34.02,395.74L35.15,395.64L35.95,395.17L36.38,394.28Z"/>
<text x="23.03" y="462.0" font-size="10.7">0</text><text x="28.98" y="462.0" font-size="10.7">.</text><text x="31.95" y="462.0" font-size="10.7">5</text>
<text x="374.20" y="340.5" font-size="10.7">2</text>
<path d="M378.55,394.98L378.55,402.50L377.61,402.50L377.61,397.19L375.37,397.19L375.37,396.44L376.50,396.34L377.30,395.87L377.73,394.98Z"/>
<text x="374.20" y="462.0" font-size="10.7">0</text><text x="380.15" y="462.0" font-size="10.7">.</text><text x="383.12" y="462.0" font-size="10.7">5</text>
<path d="M122.08,481.48L122.08,489.00L121.14,489.00L121.14,483.69L118.89,483.69L118.89,482.94L120.03,482.84L120.83,482.37L121.26,481.48Z"/>
<text x="242.93" y="489" font-size="10.7">2</text>
<text x="368.03" y="489" font-size="10.7">3</text>
<text x="290" y="500.6" font-size="12">Mean p</text>
<text x="330.2" y="507.6" font-size="7.8">T</text>
<text x="334.8" y="500.6" font-size="12">/dη dϕ</text>
</g>
<g font-family="Liberation Sans" fill="#000" transform="translate(14.9,165.5) rotate(-90)" font-size="12"><text x="-1.3" y="0">1/N</text><text x="17.3" y="2.7" font-size="7.5">ev</text><text x="28.1" y="0">dN</text><text x="43.6" y="2.7" font-size="7.5">ev</text><text x="50.0" y="0">/</text><text x="54.7" y="0">d</text><text x="65.6" y="0">mean</text><text x="96.8" y="0">p</text><text x="105.6" y="6.8" font-size="8">T</text><text x="112.6" y="0">[GeV]</text><text x="144.0" y="-6.0" font-size="8">1</text></g>
<g font-family="Liberation Sans" fill="#000" transform="translate(18.4,427) rotate(-90)"><text x="0" y="0" font-size="9">Ratio to ATLAS</text></g>
<g font-family="Liberation Sans" fill="#808080" transform="translate(379.9,126.6) rotate(-90)"><text x="0" y="0" font-size="9.3" word-spacing="0.5">Rivet 4.1.0, ≥ 2.3M events</text></g>
<g font-family="Liberation Sans" fill="#808080" transform="translate(381,313.2) rotate(-90)"><text x="0" y="0" font-size="9.4">mcplots.cern.ch [arXiv:2401.10621]</text></g>
<text font-family="Liberation Sans" x="207.3" y="301.8" font-size="7.9" fill="#8c8c8c" text-anchor="middle">(ATLAS_2019_I1736531)</text>
</svg></body></html>
